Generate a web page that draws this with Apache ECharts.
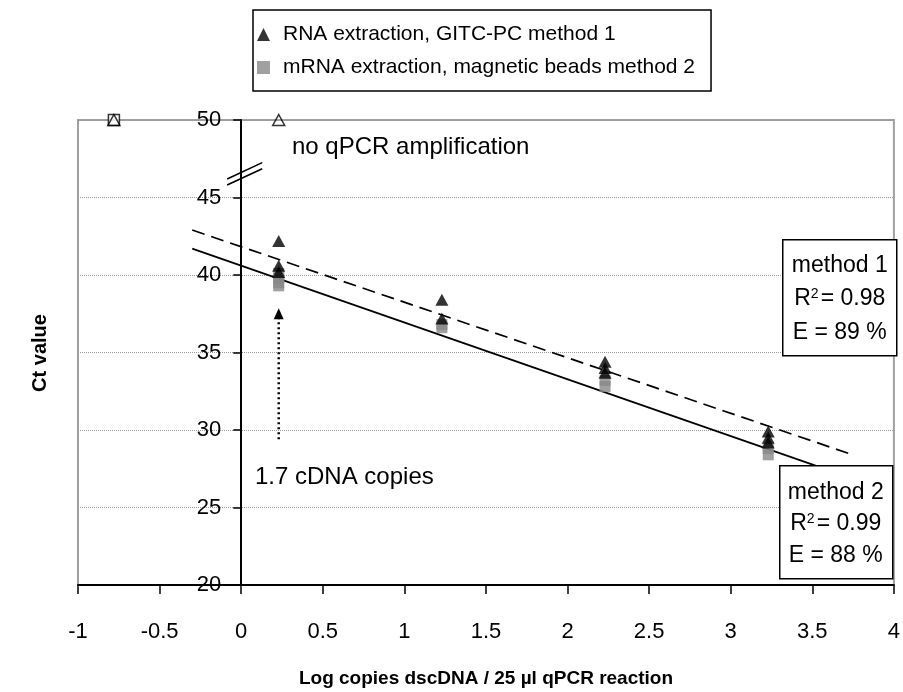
<!DOCTYPE html>
<html>
<head>
<meta charset="utf-8">
<script src="https://cdn.jsdelivr.net/npm/echarts@6/dist/echarts.min.js"></script>
<style>html,body{margin:0;padding:0;background:#fff}#c{width:903px;height:692px}</style>
</head>
<body>
<div id="c"></div>
<script>
// Method 1: RNA extraction, GITC-PC (black triangles)
const m1X = [0.23, 0.23, 0.23, 1.23, 1.23, 2.23, 2.23, 2.23, 3.23, 3.23, 3.23];
const m1Y = [42.2, 40.6, 40.2, 38.4, 37.2, 34.4, 34.0, 33.7, 29.9, 29.5, 29.2];
// Method 2: mRNA extraction, magnetic beads (grey squares)
const m2X = [0.23, 0.23, 0.23, 0.23, 1.23, 1.23, 2.23, 2.23, 3.23, 3.23];
const m2Y = [40.1, 39.8, 39.5, 39.3, 36.8, 36.6, 33.2, 32.8, 28.8, 28.4];
// Trend lines
const fit1X = [-0.3, 3.72];
const fit1Y = [42.9, 28.5];
const fit2X = [-0.3, 3.52];
const fit2Y = [41.7, 27.7];
// No amplification markers (placed at 50 on broken axis)
const naSqX = [-0.78];
const naTriX = [-0.78, 0.23];
const naY = 50;
// Arrow "1.7 cDNA copies"
const arrowX = [0.23, 0.23];
const arrowY = [29.4, 37.5];
// Axis break marks
const brkX = [-0.086, 0.129];
const brk1Y = [45.8, 46.85];
const brk2Y = [46.2, 47.25];
// Axis ticks
const xMin = -1, xMax = 4, xStep = 0.5;
const yMin = 20, yMax = 50, yStep = 5;

const legendNames = ['RNA extraction, GITC-PC method 1', 'mRNA extraction, magnetic beads method 2'];
const FONT = 'Liberation Sans, Arial, sans-serif';

const zip = (xs, ys) => xs.map((x, i) => [x, Array.isArray(ys) ? ys[i] : ys]);

const GRID_LEFT = 78, GRID_RIGHT = 9, W = 903;
const gridW = W - GRID_LEFT - GRID_RIGHT;
const yAxisOffset = -gridW * (0 - xMin) / (xMax - xMin);

const chart = echarts.init(document.getElementById('c'));
chart.setOption({
  animation: false,
  backgroundColor: '#fff',
  textStyle: { fontFamily: FONT },
  grid: { left: GRID_LEFT, right: GRID_RIGHT, top: 120, bottom: 107, show: true, borderColor: '#a0a0a0', borderWidth: 2 },
  legend: {
    left: 253, top: 10, orient: 'vertical',
    borderColor: '#000', borderWidth: 1.5,
    padding: [14, 16, 13, 4],
    itemWidth: 13, itemHeight: 13, itemGap: 12,
    textStyle: { fontSize: 21, color: '#000', fontFamily: FONT, padding: [0, 0, 0, 8] },
    data: [{ name: legendNames[0], icon: 'triangle' }, { name: legendNames[1], icon: 'rect' }]
  },
  xAxis: {
    type: 'value', min: xMin, max: xMax, interval: xStep,
    axisLine: { onZero: false, lineStyle: { color: '#000', width: 2 } },
    axisTick: { show: true, length: 9, lineStyle: { color: '#000', width: 1.5 } },
    axisLabel: { fontSize: 22, color: '#000', margin: 36, fontFamily: FONT },
    splitLine: { show: false }
  },
  yAxis: {
    type: 'value', min: yMin, max: yMax, interval: yStep, position: 'left', offset: yAxisOffset,
    axisLine: { show: true, onZero: false, lineStyle: { color: '#000', width: 2 } },
    axisTick: { show: true, length: 8, lineStyle: { color: '#000', width: 1.5 } },
    axisLabel: { fontSize: 22, color: '#000', margin: 20, fontFamily: FONT },
    splitLine: { show: true, lineStyle: { color: '#999', type: 'dotted', width: 1 } }
  },
  series: [
    { type: 'line', name: 'fit2', data: zip(fit2X, fit2Y), symbol: 'none', lineStyle: { color: '#000', width: 1.7 }, z: 3 },
    { type: 'line', name: 'fit1', data: zip(fit1X, fit1Y), symbol: 'none', lineStyle: { color: '#000', width: 1.7, type: [13, 7] }, z: 3 },
    { type: 'line', name: 'arrow', symbol: 'none', lineStyle: { color: '#000', width: 2.5, type: [2, 3] },
      data: [ { value: [arrowX[0], arrowY[0]], symbol: 'none' }, { value: [arrowX[1], arrowY[1]], symbol: 'triangle', symbolSize: [10, 11], itemStyle: { color: '#000' } } ],
      showSymbol: true, z: 4 },
    { type: 'line', name: 'brk1', data: zip(brkX, brk1Y), symbol: 'none', lineStyle: { color: '#000', width: 1.6 }, z: 6 },
    { type: 'line', name: 'brk2', data: zip(brkX, brk2Y), symbol: 'none', lineStyle: { color: '#000', width: 1.6 }, z: 6 },
    { type: 'scatter', name: legendNames[1], data: zip(m2X, m2Y), symbol: 'rect', symbolSize: 11, itemStyle: { color: '#888888' }, z: 5 },
    { type: 'scatter', name: legendNames[0], data: zip(m1X, m1Y), symbol: 'triangle', symbolSize: [13, 12], itemStyle: { color: '#000' }, z: 5 },
    { type: 'scatter', name: 'naSq', data: zip(naSqX, naY), symbol: 'rect', symbolSize: 11, clip: false,
      itemStyle: { color: '#fff', borderColor: '#000', borderWidth: 1.5 }, z: 7 },
    { type: 'scatter', name: 'naTri', data: zip(naTriX, naY), symbol: 'triangle', symbolSize: [12, 11], clip: false,
      itemStyle: { color: 'rgba(255,255,255,0)', borderColor: '#000', borderWidth: 1.5 }, z: 7 }
  ],
  graphic: [
    { type: 'text', left: 292, top: 135, style: { text: 'no qPCR amplification', font: '24px ' + FONT, fill: '#000' } },
    { type: 'text', left: 255, top: 465, style: { text: '1.7 cDNA copies', font: '24px ' + FONT, fill: '#000' } },
    { type: 'text', x: 40, y: 353, rotation: Math.PI / 2, style: { text: 'Ct value', font: 'bold 20px ' + FONT, fill: '#000', align: 'center', verticalAlign: 'middle' } },
    { type: 'text', x: 486, y: 679, style: { text: 'Log copies dscDNA / 25 µl qPCR reaction', font: 'bold 19px ' + FONT, fill: '#000', align: 'center', verticalAlign: 'middle' } },
    { type: 'group', left: 782, top: 239, children: [
      { type: 'rect', shape: { x: 0, y: 0, width: 114, height: 116 }, style: { fill: '#fff', stroke: '#000', lineWidth: 1.5 }, z: 10 },
      { type: 'text', x: 57, y: 26, style: { text: 'method 1', font: '23px ' + FONT, fill: '#000', align: 'center', verticalAlign: 'middle' }, z: 11 },
      { type: 'text', x: 57, y: 59, style: { text: '{a|R}{s|2}{a|= 0.98}', align: 'center', verticalAlign: 'middle',
        rich: { a: { fontSize: 23, fontFamily: FONT, fill: '#000' }, s: { fontSize: 14, fontFamily: FONT, fill: '#000', verticalAlign: 'top', padding: [0, 2, 10, 0] } } }, z: 11 },
      { type: 'text', x: 57, y: 93, style: { text: 'E = 89 %', font: '23px ' + FONT, fill: '#000', align: 'center', verticalAlign: 'middle' }, z: 11 }
    ] },
    { type: 'group', left: 779, top: 465, children: [
      { type: 'rect', shape: { x: 0, y: 0, width: 113, height: 113 }, style: { fill: '#fff', stroke: '#000', lineWidth: 1.5 }, z: 10 },
      { type: 'text', x: 56, y: 27, style: { text: 'method 2', font: '23px ' + FONT, fill: '#000', align: 'center', verticalAlign: 'middle' }, z: 11 },
      { type: 'text', x: 56, y: 58, style: { text: '{a|R}{s|2}{a|= 0.99}', align: 'center', verticalAlign: 'middle',
        rich: { a: { fontSize: 23, fontFamily: FONT, fill: '#000' }, s: { fontSize: 14, fontFamily: FONT, fill: '#000', verticalAlign: 'top', padding: [0, 2, 10, 0] } } }, z: 11 },
      { type: 'text', x: 56, y: 90, style: { text: 'E = 88 %', font: '23px ' + FONT, fill: '#000', align: 'center', verticalAlign: 'middle' }, z: 11 }
    ] }
  ]
});
</script>
</body>
</html>
